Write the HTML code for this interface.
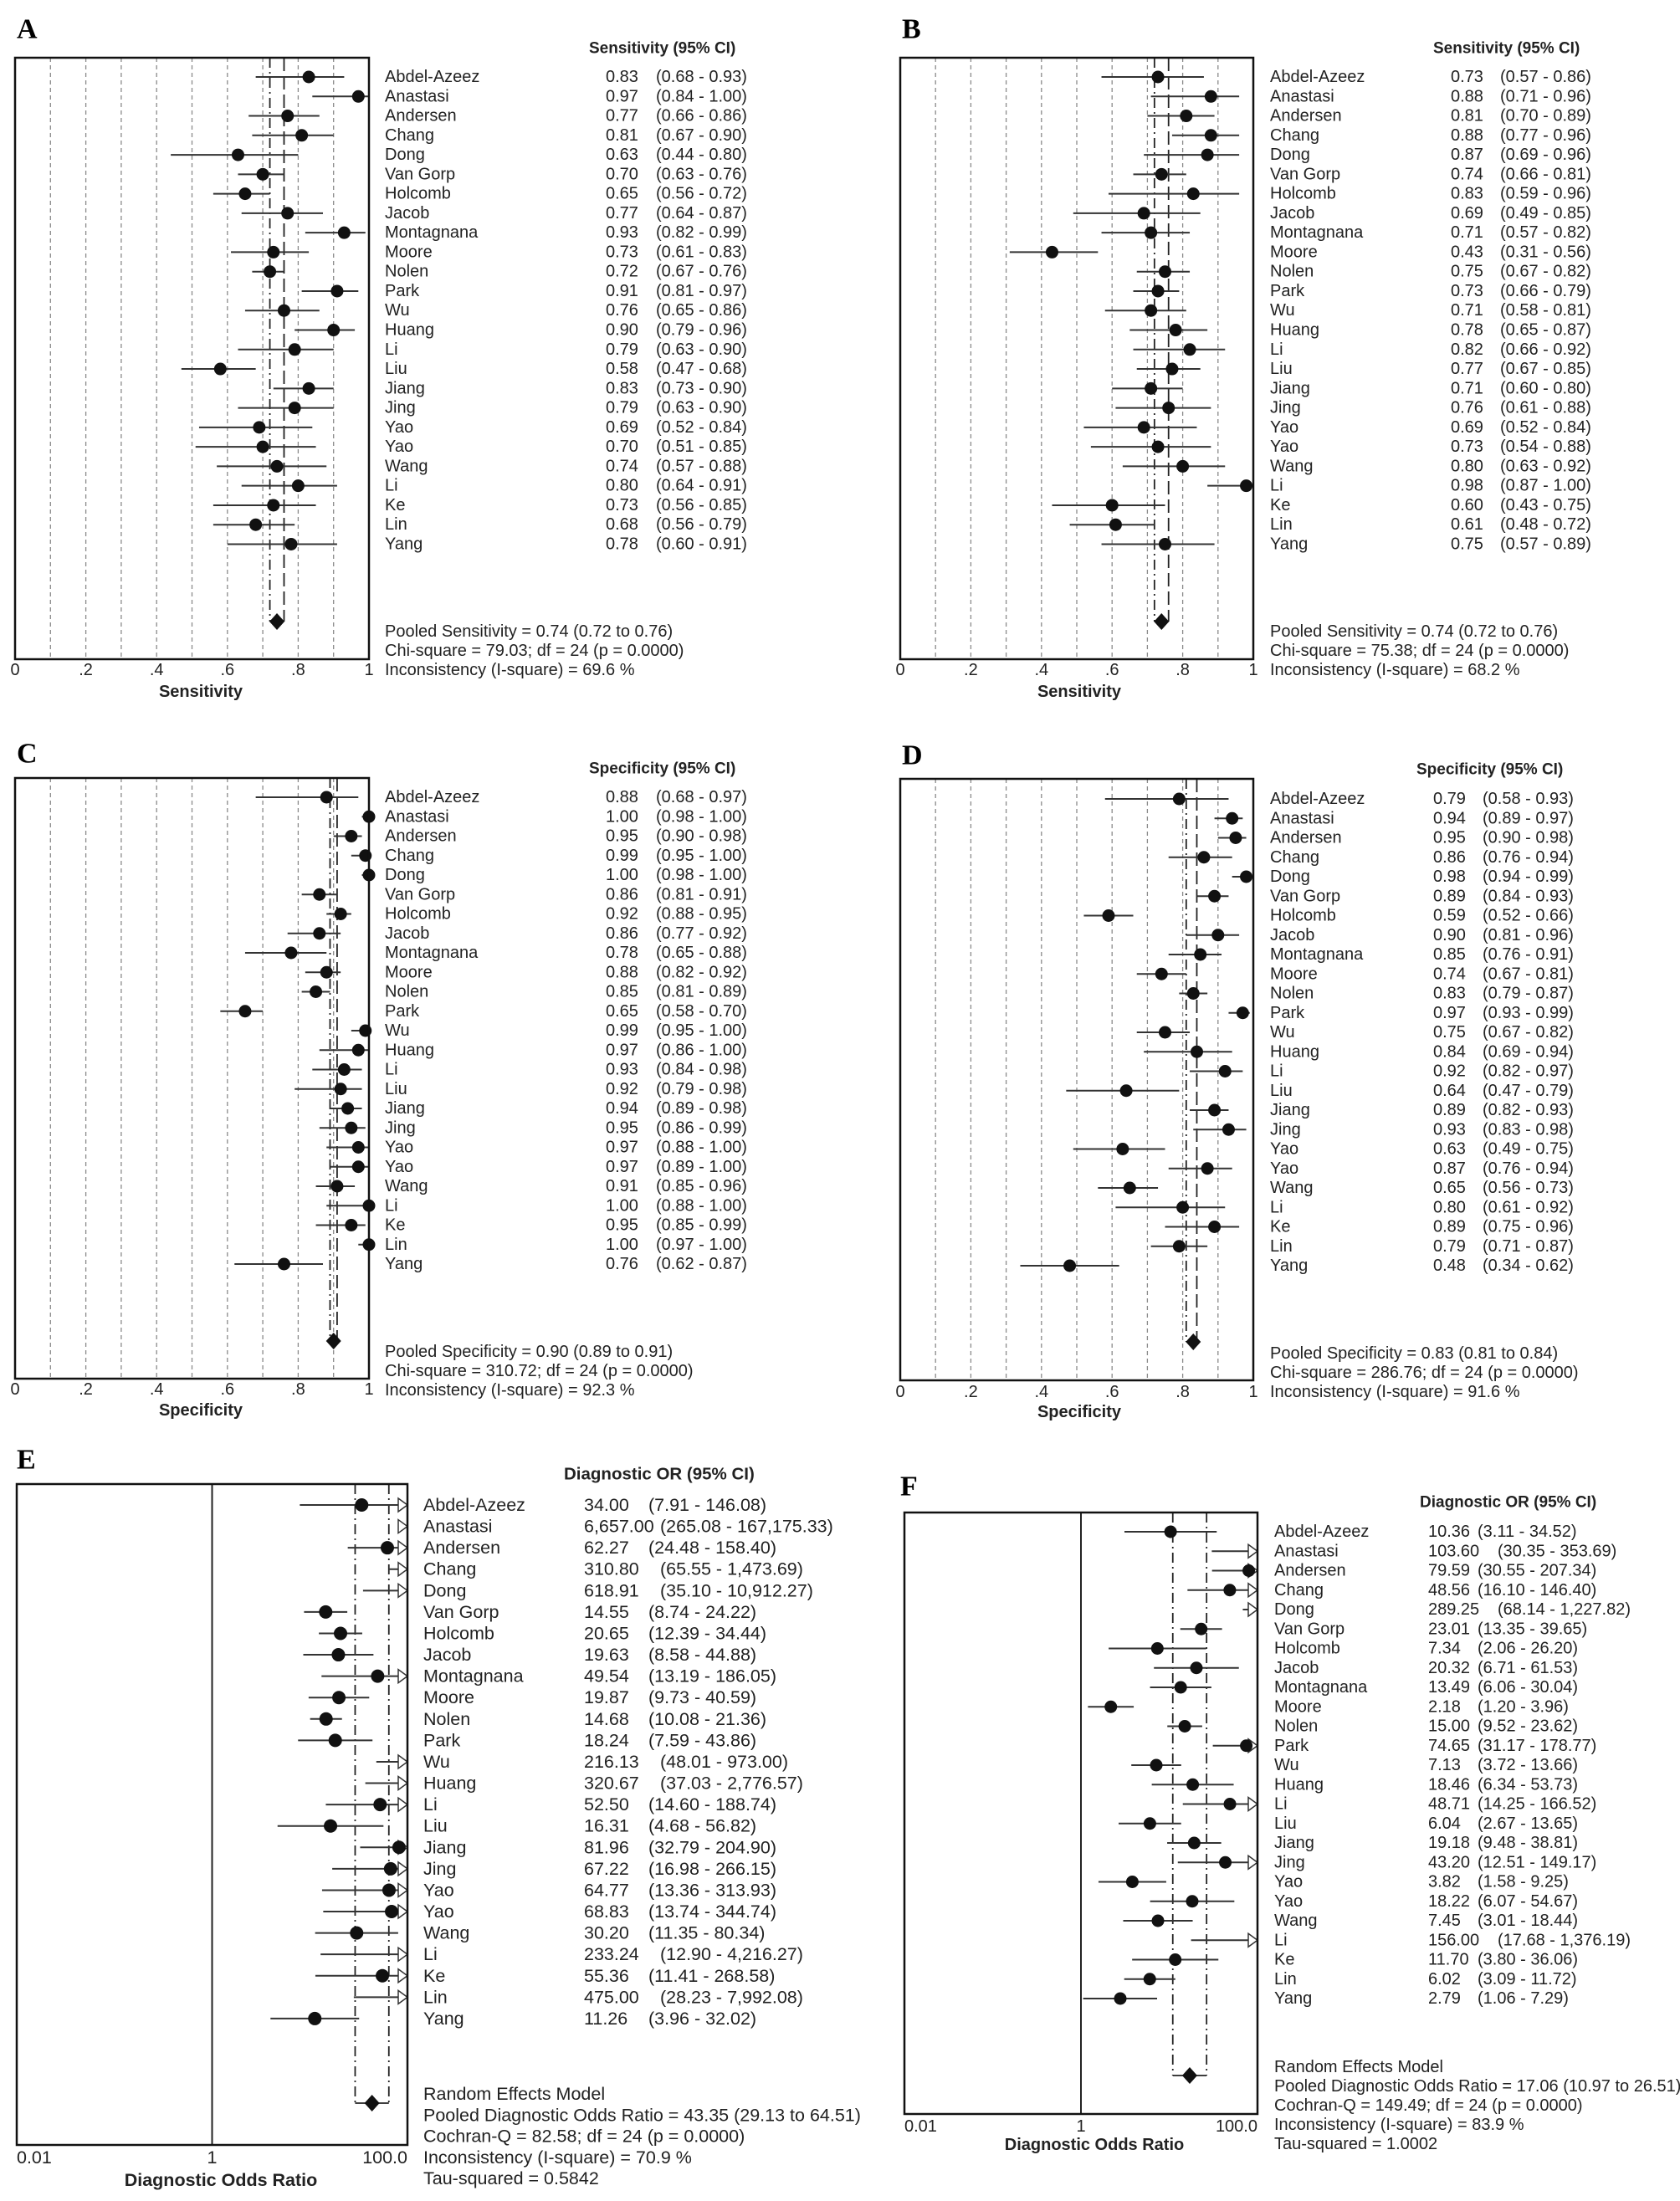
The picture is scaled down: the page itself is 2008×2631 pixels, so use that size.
<!DOCTYPE html>
<html><head><meta charset="utf-8"><style>
html,body{margin:0;padding:0;background:#fff;}
svg{display:block;}
text{font-family:"Liberation Sans",Arial,sans-serif;fill:#222;}
.lt{font-family:"Liberation Serif","Times New Roman",serif;font-weight:bold;font-size:34px;fill:#000;}
</style></head><body>
<svg id="fig" width="2008" height="2631" viewBox="0 0 2008 2631" xmlns="http://www.w3.org/2000/svg"></svg>
<script>
const studies=["Abdel-Azeez","Anastasi","Andersen","Chang","Dong","Van Gorp","Holcomb","Jacob","Montagnana","Moore","Nolen","Park","Wu","Huang","Li","Liu","Jiang","Jing","Yao","Yao","Wang","Li","Ke","Lin","Yang"];

const estA=[.83,.97,.77,.81,.63,.70,.65,.77,.93,.73,.72,.91,.76,.90,.79,.58,.83,.79,.69,.70,.74,.80,.73,.68,.78];
const loA=[.68,.84,.66,.67,.44,.63,.56,.64,.82,.61,.67,.81,.65,.79,.63,.47,.73,.63,.52,.51,.57,.64,.56,.56,.60];
const hiA=[.93,1.00,.86,.90,.80,.76,.72,.87,.99,.83,.76,.97,.86,.96,.90,.68,.90,.90,.84,.85,.88,.91,.85,.79,.91];
const pooledA=[0.74,0.72,0.76];

const estB=[.73,.88,.81,.88,.87,.74,.83,.69,.71,.43,.75,.73,.71,.78,.82,.77,.71,.76,.69,.73,.80,.98,.60,.61,.75];
const loB=[.57,.71,.70,.77,.69,.66,.59,.49,.57,.31,.67,.66,.58,.65,.66,.67,.60,.61,.52,.54,.63,.87,.43,.48,.57];
const hiB=[.86,.96,.89,.96,.96,.81,.96,.85,.82,.56,.82,.79,.81,.87,.92,.85,.80,.88,.84,.88,.92,1.00,.75,.72,.89];
const pooledB=[0.74,0.72,0.76];

const estC=[.88,1.00,.95,.99,1.00,.86,.92,.86,.78,.88,.85,.65,.99,.97,.93,.92,.94,.95,.97,.97,.91,1.00,.95,1.00,.76];
const loC=[.68,.98,.90,.95,.98,.81,.88,.77,.65,.82,.81,.58,.95,.86,.84,.79,.89,.86,.88,.89,.85,.88,.85,.97,.62];
const hiC=[.97,1,.98,1,1,.91,.95,.92,.88,.92,.89,.70,1,1,.98,.98,.98,.99,1,1,.96,1,.99,1,.87];
const pooledC=[0.90,0.89,0.91];

const estD=[.79,.94,.95,.86,.98,.89,.59,.90,.85,.74,.83,.97,.75,.84,.92,.64,.89,.93,.63,.87,.65,.80,.89,.79,.48];
const loD=[.58,.89,.90,.76,.94,.84,.52,.81,.76,.67,.79,.93,.67,.69,.82,.47,.82,.83,.49,.76,.56,.61,.75,.71,.34];
const hiD=[.93,.97,.98,.94,.99,.93,.66,.96,.91,.81,.87,.99,.82,.94,.97,.79,.93,.98,.75,.94,.73,.92,.96,.87,.62];
const pooledD=[0.83,0.81,0.84];

const estE=[34.00,6657.00,62.27,310.80,618.91,14.55,20.65,19.63,49.54,19.87,14.68,18.24,216.13,320.67,52.50,16.31,81.96,67.22,64.77,68.83,30.20,233.24,55.36,475.00,11.26];
const loE=[7.91,265.08,24.48,65.55,35.10,8.74,12.39,8.58,13.19,9.73,10.08,7.59,48.01,37.03,14.60,4.68,32.79,16.98,13.36,13.74,11.35,12.90,11.41,28.23,3.96];
const hiE=[146.08,167175.33,158.40,1473.69,10912.27,24.22,34.44,44.88,186.05,40.59,21.36,43.86,973.00,2776.57,188.74,56.82,204.90,266.15,313.93,344.74,80.34,4216.27,268.58,7992.08,32.02];
const pooledE=[43.35,29.13,64.51];

const estF=[10.36,103.60,79.59,48.56,289.25,23.01,7.34,20.32,13.49,2.18,15.00,74.65,7.13,18.46,48.71,6.04,19.18,43.20,3.82,18.22,7.45,156.00,11.70,6.02,2.79];
const loF=[3.11,30.35,30.55,16.10,68.14,13.35,2.06,6.71,6.06,1.20,9.52,31.17,3.72,6.34,14.25,2.67,9.48,12.51,1.58,6.07,3.01,17.68,3.80,3.09,1.06];
const hiF=[34.52,353.69,207.34,146.40,1227.82,39.65,26.20,61.53,30.04,3.96,23.62,178.77,13.66,53.73,166.52,13.65,38.81,149.17,9.25,54.67,18.44,1376.19,36.06,11.72,7.29];
const pooledF=[17.06,10.97,26.51];

const linTicks=[0,.2,.4,.6,.8,1];
const linTickLabels=["0",".2",".4",".6",".8","1"];
const logTicks=[0.01,1,100];
const logTickLabels=["0.01","1","100.0"];

const NS="http://www.w3.org/2000/svg";
const svg=document.getElementById('fig');
function mk(tag,attrs,parent){const e=document.createElementNS(NS,tag);for(const k in attrs)e.setAttribute(k,attrs[k]);(parent||svg).appendChild(e);return e;}
function txt(s,x,y,size,parent,anchor,weight){const t=mk('text',{x:x,y:y,'font-size':size,'dominant-baseline':'central','text-anchor':anchor||'start'},parent);if(weight)t.setAttribute('font-weight',weight);t.setAttribute('xml:space','preserve');t.textContent=s;return t;}

function panel(c,est,lo,hi,pooled){
  const g=mk('g',{});
  
  
  const W=c.x1-c.x0;
  const sx=c.log?(v=>c.x0+(Math.log10(Math.max(v,0.01))+2)/4*W):(v=>c.x0+v*W);
  const sy=i=>c.row0+i*c.rowH;
  const L=txt(c.id,c.letterX,c.letterY,34,g,'start');
  L.setAttribute('class','lt');
  
  
  if(!c.log){
    for(let k=1;k<10;k++){
      const gl=mk('line',{x1:sx(k/10),x2:sx(k/10),y1:c.y0,y2:c.y1,stroke:'#8a8a8a','stroke-width':1.3,'stroke-dasharray':'5,4'},g);
      
      
    }
  } else {
    const one=mk('line',{x1:sx(1),x2:sx(1),y1:c.y0,y2:c.y1,stroke:'#222','stroke-width':2},g);
    
    
  }
  const lx=sx(pooled[1]),rx=sx(pooled[2]),dy=c.diamondY;
  const pl1=mk('line',{x1:lx,x2:lx,y1:c.y0,y2:dy,stroke:'#222','stroke-width':1.8,'stroke-dasharray':'12,5,2,5'},g);
  
  
  const pl2=mk('line',{x1:rx,x2:rx,y1:c.y0,y2:dy,stroke:'#222','stroke-width':1.8,'stroke-dasharray':c.log?'12,5,2,5':'16,6'},g);
  
  
  if(c.log){
    const br=mk('line',{x1:lx,x2:rx,y1:dy,y2:dy,stroke:'#222','stroke-width':1.8},g);
    
    
  }
  const maxV=c.log?100:1;
  for(let i=0;i<studies.length;i++){
    const y=sy(i);
    const a=Math.min(lo[i],maxV),b=Math.min(hi[i],maxV);
    if(lo[i]<maxV){
      const ln=mk('line',{x1:sx(a),x2:sx(b),y1:y,y2:y,stroke:'#333','stroke-width':2},g);
      
      
    }
    if(hi[i]>maxV && c.log){
      const ax=c.x1;
      const ar=mk('polygon',{points:(ax-11)+','+(y-8)+' '+ax+','+y+' '+(ax-11)+','+(y+8),fill:'#fff',stroke:'#333','stroke-width':1.5},g);
      
      
    }
    if(est[i]<=maxV){
      const m=mk('circle',{cx:sx(est[i]),cy:y,r:c.r,fill:'#111'},g);
      
      
    }
    const n=txt(studies[i],c.nameX,y,c.fs,g);
    
    
    const vs=c.log?est[i].toLocaleString('en-US',{minimumFractionDigits:2,maximumFractionDigits:2}):est[i].toFixed(2);
    const f=v=>c.log?v.toLocaleString('en-US',{minimumFractionDigits:2,maximumFractionDigits:2}):v.toFixed(2);
    const v=txt(vs,c.valX,y,c.fs,g);
    
    
    const ciX=(c.log&&vs.length>=6)?c.ciXLong:c.ciX;
    const ct=txt('('+f(lo[i])+' - '+f(hi[i])+')',ciX,y,c.fs,g);
    
    
  }
  const px=sx(pooled[0]);
  const dm=mk('polygon',{points:(px-9)+','+dy+' '+px+','+(dy-10)+' '+(px+9)+','+dy+' '+px+','+(dy+10),fill:'#111'},g);
  
  
  const bx=mk('rect',{x:c.x0,y:c.y0,width:W,height:c.y1-c.y0,fill:'none',stroke:'#111','stroke-width':2.5},g);
  
  
  const tv=c.log?logTicks:linTicks, tl=c.log?logTickLabels:linTickLabels;
  for(let k=0;k<tv.length;k++){
    let anchor='middle';
    if(c.log&&k===0)anchor='start';
    if(c.log&&k===tv.length-1)anchor='end';
    const t=txt(tl[k],sx(tv[k]),c.tickY,c.fs,g,anchor);
    
    
  }
  const at=txt(c.axisTitle,c.titleX,c.titleY,c.fs,g,'middle','bold');
  
  
  const hd=txt(c.header,c.headX,c.headY,c.fs-1,g,'start','bold');
  
  
  for(let k=0;k<c.stats.length;k++){
    const s=txt(c.stats[k],c.nameX,c.statY+k*c.statDy,c.fs,g);
    
    
  }
}

const baseTop={y0:69,y1:788,row0:92,rowH:23.27,diamondY:743,tickY:801,titleY:827,headY:58,letterY:35,statY:755,statDy:23,fs:20,r:7.5};
const baseMid={y0:930,y1:1648,row0:953,rowH:23.25,diamondY:1603,tickY:1661,titleY:1686,headY:919,letterY:901,statY:1616,statDy:23,fs:20,r:7.5};

panel(Object.assign({},baseTop,{id:'A',x0:18,x1:441,nameX:460,valX:724,ciX:784,headX:704,letterX:20,titleX:240,axisTitle:'Sensitivity',header:'Sensitivity (95% CI)',
  stats:['Pooled Sensitivity = 0.74 (0.72 to 0.76)','Chi-square = 79.03; df =  24 (p = 0.0000)','Inconsistency (I-square) = 69.6 %']}),estA,loA,hiA,pooledA);
panel(Object.assign({},baseTop,{id:'B',x0:1076,x1:1498,nameX:1518,valX:1734,ciX:1793,headX:1713,letterX:1078,titleX:1290,axisTitle:'Sensitivity',header:'Sensitivity (95% CI)',
  stats:['Pooled Sensitivity = 0.74 (0.72 to 0.76)','Chi-square = 75.38; df =  24 (p = 0.0000)','Inconsistency (I-square) = 68.2 %']}),estB,loB,hiB,pooledB);
panel(Object.assign({},baseMid,{id:'C',x0:18,x1:441,nameX:460,valX:724,ciX:784,headX:704,letterX:20,titleX:240,axisTitle:'Specificity',header:'Specificity (95% CI)',
  stats:['Pooled Specificity = 0.90 (0.89 to 0.91)','Chi-square = 310.72; df =  24 (p = 0.0000)','Inconsistency (I-square) = 92.3 %']}),estC,loC,hiC,pooledC);
panel(Object.assign({},baseMid,{id:'D',y0:931,y1:1650,row0:955,diamondY:1604,statY:1618,tickY:1664,titleY:1688,headY:920,letterY:903,x0:1076,x1:1498,nameX:1518,valX:1713,ciX:1772,headX:1693,letterX:1078,titleX:1290,axisTitle:'Specificity',header:'Specificity (95% CI)',
  stats:['Pooled Specificity = 0.83 (0.81 to 0.84)','Chi-square = 286.76; df =  24 (p = 0.0000)','Inconsistency (I-square) = 91.6 %']}),estD,loD,hiD,pooledD);
panel({id:'E',log:true,x0:20,x1:487,y0:1774,y1:2564,row0:1799,rowH:25.58,diamondY:2514,tickY:2579,titleY:2606,titleX:264,headX:674,headY:1762,letterX:20,letterY:1745,
  nameX:506,valX:698,ciX:775,ciXLong:789,statY:2503,statDy:25.3,fs:21.5,r:8,axisTitle:'Diagnostic Odds Ratio',header:'Diagnostic OR (95% CI)',
  stats:['Random Effects Model','Pooled Diagnostic Odds Ratio = 43.35 (29.13 to 64.51)','Cochran-Q = 82.58; df =  24 (p = 0.0000)','Inconsistency (I-square) = 70.9 %','Tau-squared = 0.5842']},estE,loE,hiE,pooledE);
panel({id:'F',log:true,x0:1081,x1:1503,y0:1808,y1:2527,row0:1831,rowH:23.25,diamondY:2481,tickY:2542,titleY:2564,titleX:1308,headX:1697,headY:1796,letterX:1076,letterY:1777,
  nameX:1523,valX:1707,ciX:1766,ciXLong:1790,statY:2471,statDy:23,fs:20,r:7.5,axisTitle:'Diagnostic Odds Ratio',header:'Diagnostic OR (95% CI)',
  stats:['Random Effects Model','Pooled Diagnostic Odds Ratio = 17.06 (10.97 to 26.51)','Cochran-Q = 149.49; df =  24 (p = 0.0000)','Inconsistency (I-square) = 83.9 %','Tau-squared = 1.0002']},estF,loF,hiF,pooledF);
</script>
</body></html>
